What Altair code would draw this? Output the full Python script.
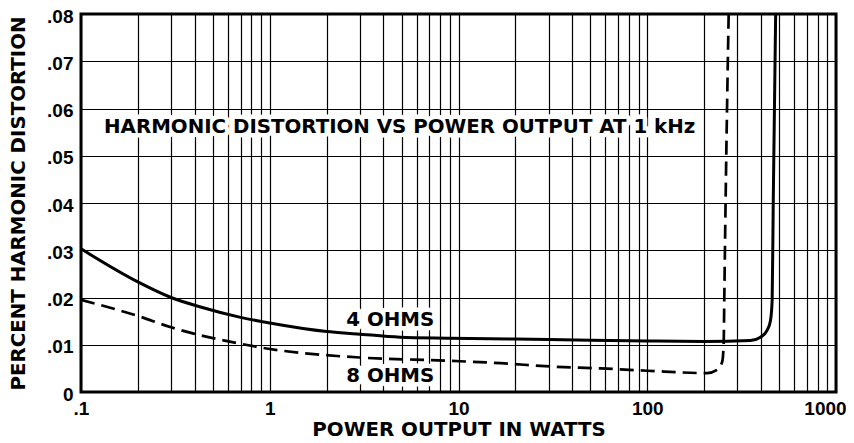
import altair as alt
import pandas as pd

# 4 OHMS (solid)
p4 = [0.1, 0.2, 0.3, 0.43, 0.7, 1, 2, 2.9, 4.9, 9, 30, 100, 200, 352, 398, 432, 450, 459, 465, 479]
d4 = [0.0303, 0.0233, 0.0200, 0.0180, 0.0158, 0.0146, 0.0128, 0.0123, 0.0116, 0.0114,
      0.0111, 0.0108, 0.0107, 0.0109, 0.0116, 0.0131, 0.0152, 0.0195, 0.040, 0.080]
# 8 OHMS (dashed)
p8 = [0.1, 0.2, 0.3, 0.4, 0.5, 0.7, 1, 1.45, 3, 9, 16.7, 30.7, 56.5, 100, 208, 235, 249.5, 254, 256, 260, 270]
d8 = [0.0195, 0.0161, 0.0137, 0.0123, 0.0114, 0.0102, 0.0091, 0.0083, 0.0073, 0.0066, 0.0061, 0.0054,
      0.0050, 0.0045, 0.0040, 0.0047, 0.0064, 0.0100, 0.0200, 0.040, 0.080]

x_grid = [0.1, 0.2, 0.3, 0.4, 0.5, 0.6, 0.7, 0.8, 0.9,
          1, 2, 3, 4, 5, 6, 7, 8, 9,
          10, 20, 30, 40, 50, 60, 70, 80, 90,
          100, 200, 300, 400, 500, 600, 700, 800, 900, 1000]
x_major = [0.1, 1, 10, 100, 1000]
x_major_labels = [".1", "1", "10", "100", "1000"]
y_grid = [0, 0.01, 0.02, 0.03, 0.04, 0.05, 0.06, 0.07, 0.08]
y_labels = ["0", ".01", ".02", ".03", ".04", ".05", ".06", ".07", ".08"]

notes_text = ["HARMONIC DISTORTION VS POWER OUTPUT AT 1 kHz", "4 OHMS", "8 OHMS"]
notes_x = [4.88, 4.35, 4.35]
notes_y = [0.0561, 0.0152, 0.0034]


def label_expr(vals, texts):
    expr = "''"
    for v, t in reversed(list(zip(vals, texts))):
        expr = f"datum.value == {v} ? '{t}' : ({expr})"
    return expr


df4 = pd.DataFrame({"p": p4, "d": d4})
df8 = pd.DataFrame({"p": p8, "d": d8})
notes = pd.DataFrame({"t": notes_text, "p": notes_x, "d": notes_y})

WORD_FONT = "DejaVu Sans"
NUM_FONT = "Liberation Sans"
WSIZE = 19.8

x_enc = alt.X(
    "p:Q",
    scale=alt.Scale(type="log", domain=[0.1, 1000], nice=False),
    axis=alt.Axis(
        values=x_grid,
        labelExpr=label_expr(x_major, x_major_labels),
        grid=True, gridColor="black", gridWidth=1.2, gridOpacity=1,
        ticks=False, tickSize=0, domain=False,
        labelOverlap=False, labelFlush=False, labelPadding=7,
        labelOffset={"condition": {"test": "datum.value == 1000", "value": -11}, "value": 0},
        labelFont=NUM_FONT, labelFontSize=19, labelFontWeight="bold", labelColor="black",
        title="POWER OUTPUT IN WATTS",
        titleFont=WORD_FONT, titleFontSize=WSIZE, titleFontWeight="bold", titleColor="black",
        titleX=377.5, titleY=37, titleBaseline="middle", titleAnchor="middle",
    ),
)
y_enc = alt.Y(
    "d:Q",
    scale=alt.Scale(domain=[0, 0.08], nice=False),
    axis=alt.Axis(
        values=y_grid,
        labelExpr=label_expr(y_grid, y_labels),
        grid=True, gridColor="black", gridWidth=1.2, gridOpacity=1,
        ticks=False, tickSize=0, domain=False,
        labelOverlap=False, labelFlush=False, labelPadding=8, labelOffset=2,
        labelFont=NUM_FONT, labelFontSize=19, labelFontWeight="bold", labelColor="black",
        title="PERCENT HARMONIC DISTORTION",
        titleFont=WORD_FONT, titleFontSize=WSIZE, titleFontWeight="bold", titleColor="black",
        titleX=-63, titleY=189, titleBaseline="middle", titleAngle=270, titleAnchor="middle",
    ),
)

line4 = alt.Chart(df4).mark_line(
    color="black", strokeWidth=3, interpolate="monotone", clip=True
).encode(x=x_enc, y=y_enc)

line8 = alt.Chart(df8).mark_line(
    color="black", strokeWidth=2.7, strokeDash=[14, 7], interpolate="monotone", clip=True
).encode(x="p:Q", y="d:Q")

halo = alt.Chart(notes).mark_text(
    font=WORD_FONT, fontSize=WSIZE, fontWeight="bold", color="white",
    stroke="white", strokeWidth=9, strokeJoin="round", align="center", baseline="middle"
).encode(x="p:Q", y="d:Q", text="t:N")

text = alt.Chart(notes).mark_text(
    font=WORD_FONT, fontSize=WSIZE, fontWeight="bold", color="black",
    align="center", baseline="middle"
).encode(x="p:Q", y="d:Q", text="t:N")

chart = alt.layer(line4, line8, halo, text).properties(
    width=755, height=378, autosize="none",
    padding={"left": 73, "top": 6, "right": 10, "bottom": 51},
    background="white",
).configure_view(stroke="black", strokeWidth=3)

chart.save("out.html", embed_options={"renderer": "svg", "actions": False})
